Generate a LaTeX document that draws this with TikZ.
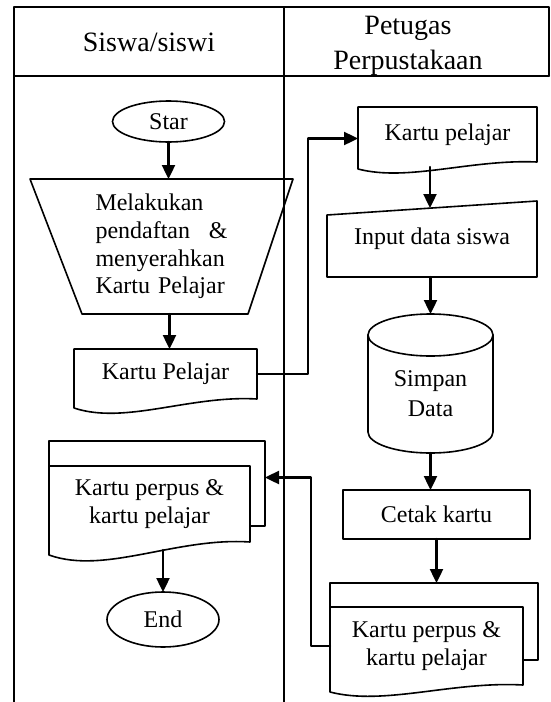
\documentclass[tikz,border=0pt]{standalone}
\usepackage{fontspec}
\setmainfont{Liberation Serif}
\usetikzlibrary{arrows.meta,shapes.geometric}

\begin{document}
\begin{tikzpicture}[x=0.5pt,y=-0.5pt,line cap=round,line join=round,
        lane/.style={line width=1pt},
        lanehead/.style={inner sep=0pt,align=center,font=\fontsize{14}{17.5}\selectfont},
        box/.style={inner sep=0pt,outer sep=0pt,align=center,font=\fontsize{12}{13.8}\selectfont},
        outline/.style={line width=0.8pt},
        flow/.style={line width=1.2pt,-{Triangle[length=7pt,width=6.5pt]}}]
        \useasboundingbox (0,0) rectangle (551,702);

        % swimlanes
        \draw[lane] (14,702) -- (14,7) -- (549,7) -- (549,76);
        \draw[lane] (14,76) -- (549,76);
        \draw[lane] (284,7) -- (284,702);
        \node[lanehead] (siswa) at (149,42) {Siswa/siswi};
        \node[lanehead] (petugas) at (408,46) {Petugas\\Perpustakaan};

        % Siswa/siswi
        \node[box,ellipse,draw,outline,minimum width=56pt,minimum height=20.5pt]
            (star) at (168.5,121.5) {Star};

        \node[box,text width=66pt,align=left,minimum width=131.5pt,minimum height=67.5pt]
            (daftar) at (161.5,246.5)
            {Melakukan\\pendaftan\hfill\&\\menyerahkan\\\mbox{Kartu Pelajar}};
        \draw[outline] (daftar.north west) -- (daftar.north east)
            -- ([xshift=-22.5pt]daftar.south east)
            -- ([xshift=26pt]daftar.south west) -- cycle;

        \node[box,minimum width=91.5pt,minimum height=25pt]
            (kpel) at (165.5,374) {Kartu Pelajar};
        \draw[outline] (kpel.south east) -- (kpel.north east) -- (kpel.north west)
            -- ([yshift=-4.5pt]kpel.south west)
            .. controls +(51,17) and +(-67,-4) .. (kpel.south east);

        \node[box,draw,outline,minimum width=108pt,minimum height=42.5pt]
            (kpback) at (157,483.5) {};
        \node[box,fill=white,minimum width=100.5pt,minimum height=38pt]
            (kpf) at (149.5,504) {Kartu perpus \&\\kartu pelajar};
        \draw[outline] (kpf.south east) -- (kpf.north east) -- (kpf.north west)
            -- ([yshift=-6.5pt]kpf.south west)
            .. controls +(56,20) and +(-74,-5) .. (kpf.south east);

        \node[box,ellipse,draw,outline,minimum width=56pt,minimum height=27.5pt]
            (end) at (163,619.5) {End};

        % Petugas Perpustakaan
        \node[box,minimum width=89.5pt,minimum height=27.5pt]
            (kpel2) at (447.5,134.5) {Kartu pelajar};
        \draw[outline] (kpel2.south east) -- (kpel2.north east) -- (kpel2.north west)
            -- ([yshift=-3.5pt]kpel2.south west)
            .. controls +(50,13) and +(-66,-3) .. (kpel2.south east);

        \node[box,minimum width=105pt,minimum height=38pt]
            (input) at (432,239) {Input data siswa};
        \draw[outline] (input.south west) -- ([yshift=-7pt]input.north west)
            -- (input.north east) -- (input.south east) -- cycle;

        \node[box,font=\fontsize{12}{15}\selectfont,minimum width=62.5pt,minimum height=59pt]
            (simpan) at (430.5,394) {Simpan\\Data};
        \draw[outline] (simpan.north) ellipse[x radius=31.25pt,y radius=10.5pt];
        \draw[outline] (simpan.north west) -- ([yshift=10.5pt]simpan.south west)
            arc[start angle=180,end angle=360,x radius=31.25pt,y radius=10.5pt]
            -- (simpan.north east);

        \node[box,draw,outline,minimum width=93.5pt,minimum height=24.5pt]
            (cetak) at (436.5,514.5) {Cetak kartu};

        \node[box,draw,outline,minimum width=104pt,minimum height=38.5pt]
            (rfback) at (434,621.5) {};
        \node[box,fill=white,minimum width=96.5pt,minimum height=39pt]
            (rf) at (426.5,646) {Kartu perpus \&\\kartu pelajar};
        \draw[outline] (rf.south east) -- (rf.north east) -- (rf.north west)
            -- ([yshift=-3.5pt]rf.south west)
            .. controls +(54,14) and +(-71,-4) .. (rf.south east);

        % alur
        \draw[flow] (star.south) -- (star.south |- daftar.north);
        \draw[flow] ([xshift=2pt]kpel.north |- daftar.south) -- ([xshift=2pt]kpel.north);
        \draw[flow] (kpel.east) -- ++(51,0) |- ([yshift=-2pt]kpel2.west);
        \draw[flow] ([xshift=-8.75pt,yshift=-2.5pt]kpel2.south)
            -- ([xshift=-1pt,yshift=-3.5pt]input.north);
        \draw[flow] (input.south -| simpan.north) -- ([yshift=10.5pt]simpan.north);
        \draw[flow] (simpan.south) -- (simpan.south |- cetak.north);
        \draw[flow] (cetak.south) -- (cetak.south |- rfback.north);
        \draw[flow] (rf.west) -- ++(-19,0) |- ([yshift=3pt]kpback.east);
        \draw[flow] ([xshift=6.75pt,yshift=-4pt]kpf.south) -- (end.north);
    \end{tikzpicture}
\end{document}
